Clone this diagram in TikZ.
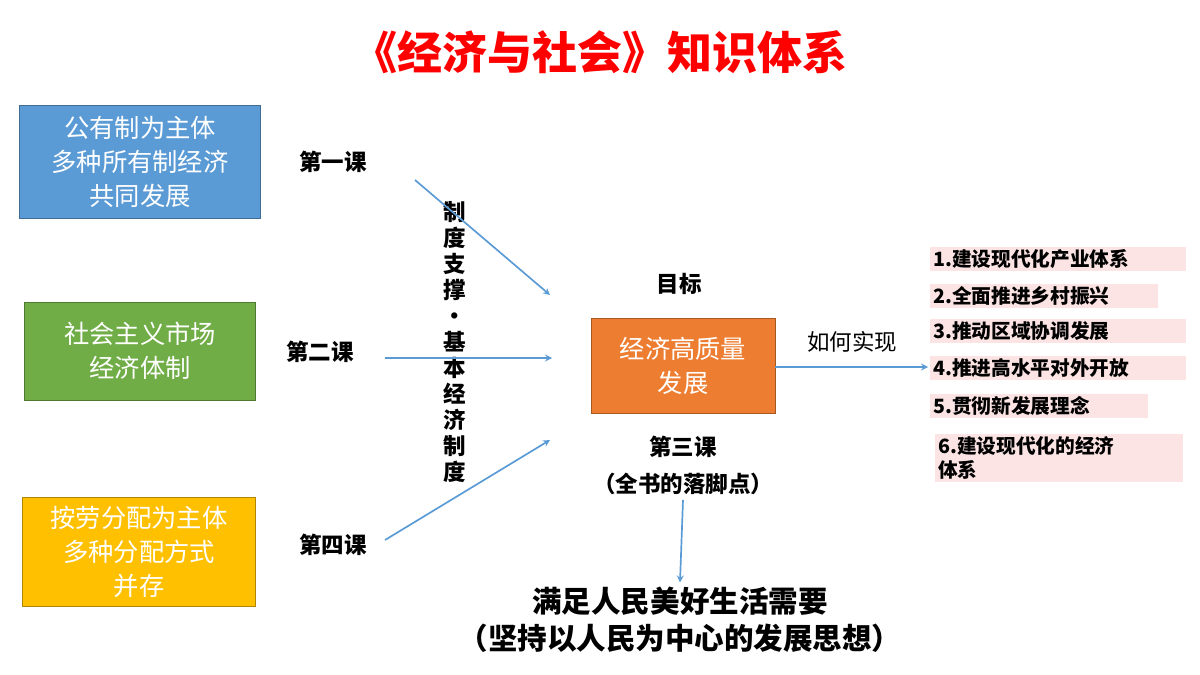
\documentclass[tikz,border=0pt]{standalone}
\usepackage{fontspec}
\setmainfont{Noto Sans CJK SC}
\definecolor{bluebox}{HTML}{5B9BD5}
\definecolor{greenbox}{HTML}{70AD47}
\definecolor{yellowbox}{HTML}{FFC000}
\definecolor{orangebox}{HTML}{ED7D31}
\definecolor{pinkbox}{HTML}{FCE4E4}
\definecolor{arrowblue}{HTML}{5B9BD5}
\tikzset{
  lessonbox/.style={draw=#1!70!black, fill=#1, text=white, align=center, font=\fontsize{18}{24}\selectfont},
  lesson/.style={font=\fontsize{16}{20}\selectfont\bfseries},
  itembox/.style={fill=pinkbox, anchor=west, align=left, inner sep=2pt, font=\fontsize{14}{17}\selectfont\bfseries},
  link/.style={->, >=stealth, color=arrowblue, line width=1.2pt}
}
\begin{document}
\begin{tikzpicture}[x=0.025cm, y=-0.025cm]
\useasboundingbox (0,0) rectangle (1200,675);
% 标题
\node[text=red, font=\fontsize{32}{36}\selectfont\bfseries] (title) at (600,52) {《经济与社会》知识体系};

% 左侧三个方框
\node[lessonbox=bluebox, minimum width=241*0.025cm, minimum height=113*0.025cm] (own) at (140,162) {公有制为主体\\多种所有制经济\\共同发展};
\node[lessonbox=greenbox, minimum width=231*0.025cm, minimum height=98*0.025cm] (market) at (140,351) {社会主义市场\\经济体制};
\node[lessonbox=yellowbox, minimum width=233*0.025cm, minimum height=109*0.025cm] (dist) at (139,552) {按劳分配为主体\\多种分配方式\\并存};

\node[lesson] (l1) at (333,162) {第一课};
\node[lesson] (l2) at (320,352) {第二课};
\node[lesson] (l4) at (333,545) {第四课};

% 竖排文字
\node[lesson, align=center, font=\fontsize{16}{18.5}\selectfont\bfseries] (vert) at (455,342) {制\\度\\支\\撑\\·\\基\\本\\经\\济\\制\\度};

% 中间
\node[lesson] (goal) at (679,284) {目标};
\node[lessonbox=orangebox, minimum width=184*0.025cm, minimum height=95*0.025cm] (core) at (683,366) {经济高质量\\发展};
\node[lesson] (l3) at (683,447) {第三课};
\node[lesson] (l3b) at (683,484) {（全书的落脚点）};
\node[font=\fontsize{21}{26}\selectfont\bfseries, align=center] (need) at (680,620) {满足人民美好生活需要\\（坚持以人民为中心的发展思想）};
\node[font=\fontsize{16}{20}\selectfont] (how) at (852,342) {如何实现};

\coordinate (a1s) at (415,180); \coordinate (a1e) at (550,295);
\coordinate (a2s) at (385,358); \coordinate (a2e) at (552,358);
\coordinate (a4s) at (385,540); \coordinate (a4e) at (550,440);
\draw[link] (a1s) -- (a1e);
\draw[link] (a2s) -- (a2e);
\draw[link] (a4s) -- (a4e);
\draw[link] (l3b.south) -- (need.north);
\coordinate (out) at (928,367);
\draw[link] (core.east |- out) -- (out);

% 右侧列表
\node[itembox, text width=250*0.025cm] (i1) at (930,259) {1.建设现代化产业体系};
\node[itembox, text width=222*0.025cm] (i2) at (930,296) {2.全面推进乡村振兴};
\node[itembox, text width=250*0.025cm] (i3) at (930,331) {3.推动区域协调发展};
\node[itembox, text width=250*0.025cm] (i4) at (930,368) {4.推进高水平对外开放};
\node[itembox, text width=212*0.025cm] (i5) at (930,406) {5.贯彻新发展理念};
\node[itembox, text width=242*0.025cm] (i6) at (935,458) {6.建设现代化的经济\\体系};
\end{tikzpicture}
\end{document}
